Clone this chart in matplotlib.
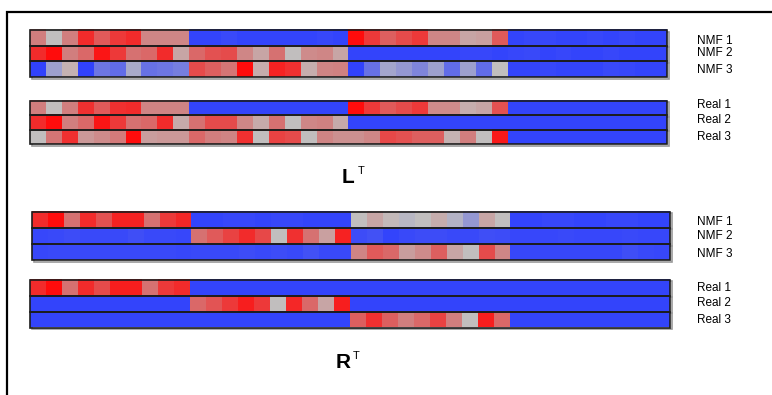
import numpy as np
import matplotlib
matplotlib.use('Agg')
import matplotlib.pyplot as plt
from matplotlib.colors import LinearSegmentedColormap
from matplotlib.patches import Rectangle

plt.rcParams['font.family'] = ['Liberation Sans', 'DejaVu Sans']

# Значення клітинок (0 = синій, 0.5 = сірий, 1 = червоний)
nmf_L1 = [0.75, 0.50, 0.75, 0.93, 0.83, 0.90, 0.93, 0.72, 0.72, 0.72,
          0.03, 0.03, 0.05, 0.03, 0.03, 0.03, 0.03, 0.03, 0.04, 0.03,
          1.00, 0.90, 0.82, 0.86, 0.90, 0.72, 0.72, 0.60, 0.62, 0.83,
          0.03, 0.04, 0.04, 0.03, 0.03, 0.04, 0.03, 0.04, 0.03, 0.03]
nmf_L2 = [0.93, 1.00, 0.75, 0.80, 0.98, 0.90, 0.78, 0.80, 0.93, 0.60,
          0.80, 0.85, 0.86, 0.72, 0.60, 0.78, 0.50, 0.70, 0.72, 0.60,
          0.03, 0.03, 0.03, 0.03, 0.03, 0.03, 0.03, 0.04, 0.04, 0.03,
          0.04, 0.05, 0.03, 0.04, 0.03, 0.03, 0.04, 0.03, 0.03, 0.03]
nmf_L3 = [0.02, 0.38, 0.55, 0.02, 0.22, 0.18, 0.42, 0.20, 0.22, 0.25,
          0.86, 0.82, 0.77, 1.00, 0.57, 0.95, 0.92, 0.57, 0.73, 0.74,
          0.02, 0.20, 0.40, 0.35, 0.28, 0.38, 0.18, 0.38, 0.18, 0.50,
          0.03, 0.03, 0.04, 0.03, 0.03, 0.03, 0.05, 0.04, 0.03, 0.03]
real_L1 = [0.75, 0.50, 0.75, 0.92, 0.83, 0.92, 0.93, 0.73, 0.73, 0.73,
           0.03, 0.03, 0.03, 0.03, 0.03, 0.03, 0.03, 0.03, 0.03, 0.03,
           1.00, 0.90, 0.83, 0.86, 0.90, 0.70, 0.70, 0.57, 0.60, 0.85,
           0.03, 0.03, 0.03, 0.03, 0.03, 0.03, 0.03, 0.03, 0.03, 0.03]
real_L2 = [0.93, 1.00, 0.75, 0.80, 0.98, 0.90, 0.78, 0.80, 0.93, 0.58,
           0.78, 0.86, 0.86, 0.72, 0.58, 0.78, 0.50, 0.72, 0.74, 0.58,
           0.03, 0.03, 0.03, 0.03, 0.03, 0.03, 0.03, 0.03, 0.03, 0.03,
           0.03, 0.03, 0.03, 0.03, 0.03, 0.03, 0.03, 0.03, 0.03, 0.03]
real_L3 = [0.50, 0.77, 0.92, 0.65, 0.70, 0.76, 1.00, 0.63, 0.65, 0.65,
           0.80, 0.75, 0.73, 0.92, 0.50, 0.88, 0.86, 0.50, 0.73, 0.68,
           0.68, 0.72, 0.87, 0.85, 0.82, 0.82, 0.55, 0.75, 0.50, 0.97,
           0.03, 0.03, 0.03, 0.03, 0.03, 0.03, 0.03, 0.03, 0.03, 0.03]

nmf_R1 = [0.93, 1.00, 0.78, 0.93, 0.85, 0.95, 0.95, 0.78, 0.90, 0.94,
          0.03, 0.03, 0.04, 0.04, 0.03, 0.04, 0.04, 0.03, 0.03, 0.03,
          0.50, 0.60, 0.52, 0.47, 0.50, 0.57, 0.45, 0.35, 0.60, 0.50,
          0.03, 0.03, 0.04, 0.04, 0.03, 0.03, 0.04, 0.04, 0.03, 0.03]
nmf_R2 = [0.04, 0.05, 0.06, 0.05, 0.05, 0.05, 0.07, 0.05, 0.05, 0.04,
          0.78, 0.83, 0.88, 0.93, 0.87, 0.50, 0.92, 0.78, 0.62, 0.95,
          0.06, 0.08, 0.03, 0.05, 0.06, 0.06, 0.05, 0.05, 0.07, 0.06,
          0.04, 0.04, 0.04, 0.05, 0.04, 0.04, 0.04, 0.05, 0.04, 0.04]
nmf_R3 = [0.04, 0.05, 0.05, 0.05, 0.05, 0.05, 0.05, 0.05, 0.05, 0.04,
          0.05, 0.05, 0.05, 0.06, 0.05, 0.06, 0.05, 0.08, 0.05, 0.05,
          0.73, 0.83, 0.80, 0.63, 0.70, 0.82, 0.60, 0.50, 0.86, 0.72,
          0.04, 0.04, 0.04, 0.04, 0.04, 0.04, 0.04, 0.07, 0.05, 0.04]
real_R1 = [0.93, 1.00, 0.78, 0.93, 0.86, 0.96, 0.96, 0.78, 0.90, 0.93,
           0.03, 0.03, 0.03, 0.03, 0.03, 0.03, 0.03, 0.03, 0.03, 0.03,
           0.03, 0.03, 0.03, 0.03, 0.03, 0.03, 0.03, 0.03, 0.03, 0.03,
           0.03, 0.03, 0.03, 0.03, 0.03, 0.03, 0.03, 0.03, 0.03, 0.03]
real_R2 = [0.03, 0.03, 0.03, 0.03, 0.03, 0.03, 0.03, 0.03, 0.03, 0.03,
           0.80, 0.84, 0.90, 0.96, 0.90, 0.50, 0.94, 0.80, 0.60, 0.96,
           0.03, 0.03, 0.03, 0.03, 0.03, 0.03, 0.03, 0.03, 0.03, 0.03,
           0.03, 0.03, 0.03, 0.03, 0.03, 0.03, 0.03, 0.03, 0.03, 0.03]
real_R3 = [0.03, 0.03, 0.03, 0.03, 0.03, 0.03, 0.03, 0.03, 0.03, 0.03,
           0.03, 0.03, 0.03, 0.03, 0.03, 0.03, 0.03, 0.03, 0.03, 0.03,
           0.82, 0.92, 0.82, 0.75, 0.80, 0.88, 0.75, 0.50, 0.96, 0.80,
           0.03, 0.03, 0.03, 0.03, 0.03, 0.03, 0.03, 0.03, 0.03, 0.03]

nmf_labels = ['NMF 1', 'NMF 2', 'NMF 3']
real_labels = ['Real 1', 'Real 2', 'Real 3']

cmap = LinearSegmentedColormap.from_list('bgr', [
    (0.0, (0.17, 0.24, 1.0)),
    (0.5, (0.76, 0.75, 0.75)),
    (0.75, (0.82, 0.50, 0.50)),
    (1.0, (1.0, 0.05, 0.05)),
])

fig = plt.figure(figsize=(7.72, 3.95), dpi=100)
ax = fig.add_axes([0, 0, 1, 1])
ax.set_xlim(0, 772)
ax.set_ylim(395, 0)
ax.axis('off')


def draw_block(rows, x0, x1, ys, labels, label_ys):
    for row, (yt, yb), lab, ly in zip(rows, zip(ys[:-1], ys[1:]), labels, label_ys):
        ax.imshow(np.array([row]), cmap=cmap, vmin=0, vmax=1, aspect='auto',
                  interpolation='nearest', extent=[x0, x1, yb, yt], zorder=2)
        ax.add_patch(Rectangle((x0 + 1.5, yt + 1.5), x1 - x0, yb - yt, fill=False,
                               edgecolor='#9a9a9a', lw=1.2, zorder=1))
        ax.add_patch(Rectangle((x0, yt), x1 - x0, yb - yt, fill=False,
                               edgecolor='#1c1c1c', lw=1.2, zorder=3))
        ax.text(697, ly, lab, fontsize=8.5, va='center', ha='left', color='black')


draw_block([nmf_L1, nmf_L2, nmf_L3], 30, 667, [30, 45.5, 61, 77],
           nmf_labels, [41, 53, 70])
draw_block([real_L1, real_L2, real_L3], 30, 667, [100.5, 115, 129.5, 144],
           real_labels, [105, 120, 137])
draw_block([nmf_R1, nmf_R2, nmf_R3], 32, 670, [211.5, 227.5, 244, 260],
           nmf_labels, [222, 236, 254])
draw_block([real_R1, real_R2, real_R3], 30, 670, [279.5, 295.5, 311.5, 327.5],
           real_labels, [288, 303, 320])

# Підписи L^T та R^T
ax.text(342, 183, 'L', fontsize=15, fontweight='bold', ha='left', va='baseline')
ax.text(358, 174, 'T', fontsize=8, ha='left', va='baseline')
ax.text(336, 368, 'R', fontsize=15, fontweight='bold', ha='left', va='baseline')
ax.text(353, 359, 'T', fontsize=8, ha='left', va='baseline')

# Рамка зверху та зліва
ax.plot([7, 7, 772], [395, 12, 12], color='black', lw=1.6, solid_joinstyle='miter')

fig.savefig('out.png', dpi=100)
